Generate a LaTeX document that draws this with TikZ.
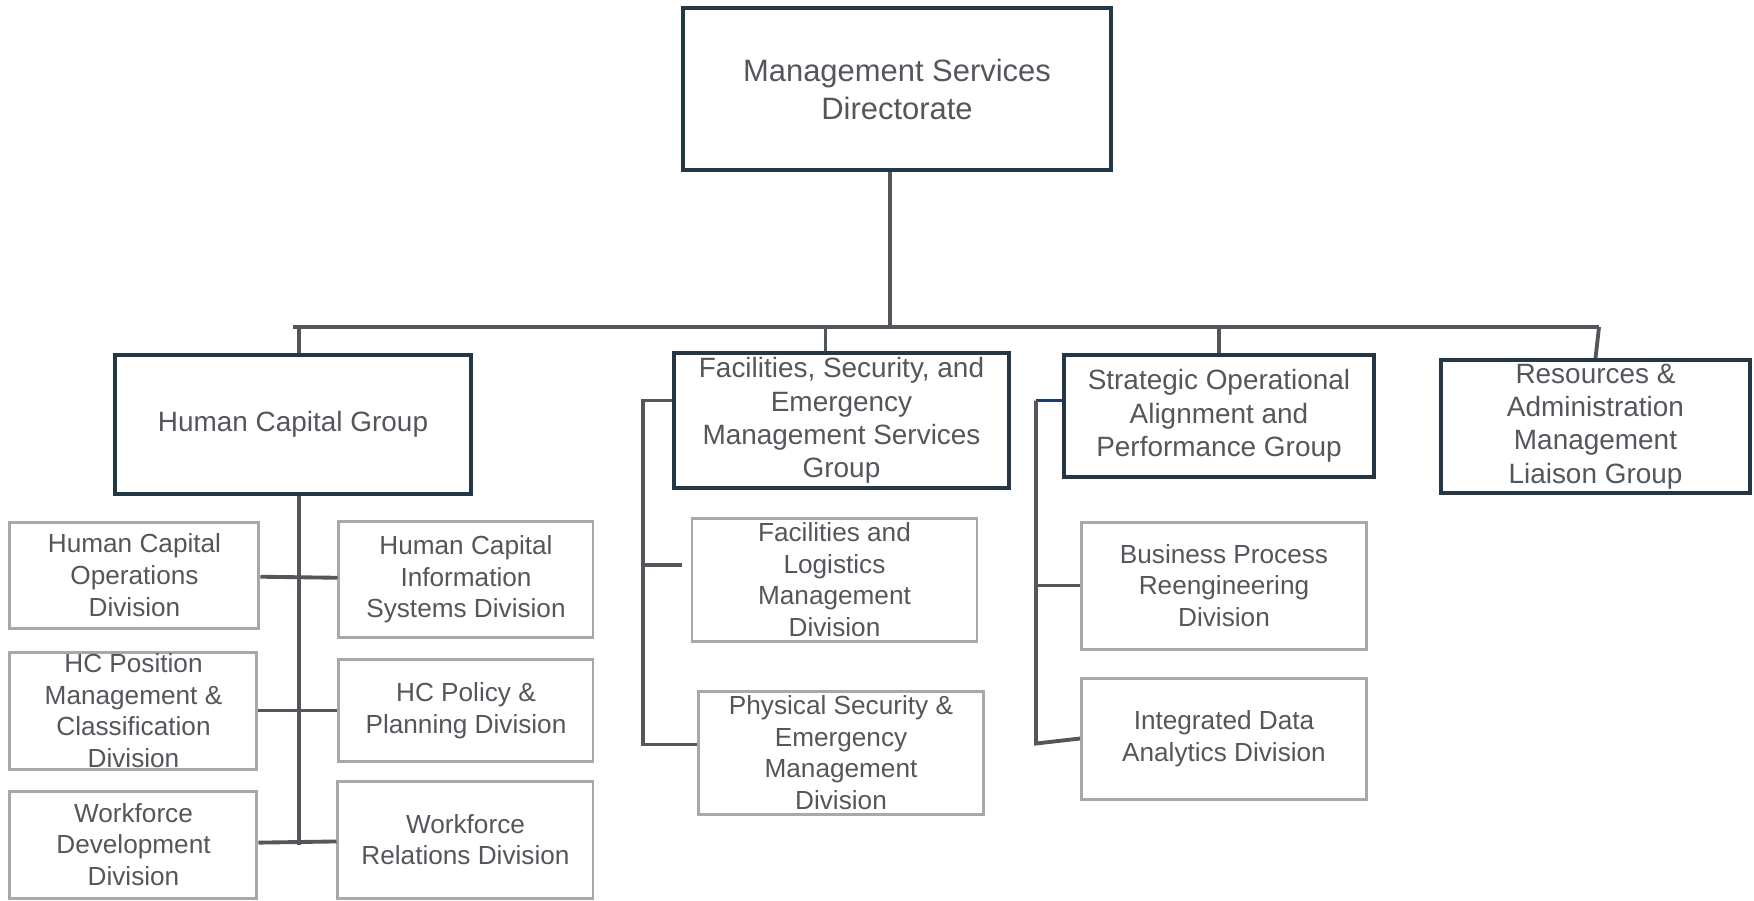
\documentclass[tikz,border=0pt]{standalone}
\usepackage{fontspec}
\setmainfont{Liberation Sans}
\definecolor{navy}{HTML}{243746}
\definecolor{framegray}{HTML}{A7A8AA}
\definecolor{linegray}{HTML}{53565A}
\definecolor{ink}{HTML}{53565A}
\definecolor{accent}{HTML}{1F3A6E}

\begin{document}
\begin{tikzpicture}[
    head/.style={draw=navy, line width=2pt, align=center, text=ink, inner sep=0pt, font=\fontsize{17.6}{21.6}\selectfont},
    grp/.style={draw=navy, line width=2pt, align=center, text=ink, inner sep=0pt, font=\fontsize{15.9}{19}\selectfont},
    div/.style={draw=framegray, line width=1.7pt, align=center, text=ink, inner sep=0pt, font=\fontsize{14.9}{18}\selectfont},
    wire/.style={draw=linegray, line width=2.2pt}
  ]
        \useasboundingbox (-17.94,1.78) rectangle (17.14,-16.22);

        \node [head, minimum width=8.56cm, minimum height=3.24cm] (1) {Management Services\\Directorate};

        % groups
        \node [grp, minimum width=7.12cm, minimum height=2.78cm, below of=1, xshift=-12.08cm, yshift=-5.71cm] (2) {Human Capital Group};
        \node [grp, minimum width=6.70cm, minimum height=2.70cm, right of=2, xshift=9.97cm, yshift=0.08cm] (3) {Facilities, Security, and\\Emergency\\Management Services\\Group};
        \node [grp, minimum width=6.20cm, minimum height=2.44cm, right of=3, xshift=6.55cm, yshift=0.09cm] (4) {Strategic Operational\\Alignment and\\Performance Group};
        \node [grp, minimum width=6.18cm, minimum height=2.66cm, right of=4, xshift=6.53cm, yshift=-0.21cm] (5) {Resources \&\\Administration\\Management\\Liaison Group};

        % human capital divisions
        \node [div, minimum width=4.98cm, minimum height=2.12cm, below of=2, xshift=-3.17cm, yshift=-2.01cm] (6) {Human Capital\\Operations\\Division};
        \node [div, minimum width=5.08cm, minimum height=2.32cm, right of=6, xshift=5.63cm, yshift=-0.09cm] (7) {Human Capital\\Information\\Systems Division};
        \node [div, minimum width=4.94cm, minimum height=2.34cm, below of=6, xshift=-0.02cm, yshift=-1.71cm] (8) {HC Position\\Management \&\\Classification\\Division};
        \node [div, minimum width=5.08cm, minimum height=2.04cm, right of=8, xshift=5.65cm] (9) {HC Policy \&\\Planning Division};
        \node [div, minimum width=4.94cm, minimum height=2.14cm, below of=8, yshift=-1.68cm] (10) {Workforce\\Development\\Division};
        \node [div, minimum width=5.10cm, minimum height=2.34cm, right of=10, xshift=5.64cm, yshift=0.10cm] (11) {Workforce\\Relations Division};

        % facilities divisions
        \node [div, minimum width=5.70cm, minimum height=2.46cm, below of=3, xshift=-0.14cm, yshift=-2.18cm] (12) {Facilities and\\Logistics\\Management\\Division};
        \node [div, minimum width=5.70cm, minimum height=2.46cm, below of=12, xshift=0.13cm, yshift=-2.46cm] (13) {Physical Security \&\\Emergency\\Management\\Division};

        % strategic divisions
        \node [div, minimum width=5.70cm, minimum height=2.54cm, below of=4, xshift=0.10cm, yshift=-2.39cm] (14) {Business Process\\Reengineering\\Division};
        \node [div, minimum width=5.70cm, minimum height=2.42cm, below of=14, yshift=-2.06cm] (15) {Integrated Data\\Analytics Division};

        \coordinate (b1) at (-12.08,-4.76);
        \coordinate (b2) at (14.04,-4.76);
        \coordinate (s1) at ([xshift=-0.14cm]1.south);
        \coordinate (s2) at ([xshift=0.12cm]2.north);
        \coordinate (s3) at ([xshift=-0.32cm]3.north);
        \coordinate (r1) at (-5.08,-6.23);
        \coordinate (r2) at (-5.08,-13.11);
        \coordinate (r3) at (2.78,-6.23);
        \coordinate (r4) at (2.78,-13.09);
        \coordinate (f1) at (-4.30,-9.52);

        \draw[wire] (b1) -- (b2);
        \draw[wire] (s1) -- (s1 |- b1);
        \draw[wire] (s2 |- b1) -- (s2);
        \draw[wire] (s3 |- b1) -- (s3);
        \draw[wire] (4.north |- b1) -- (4.north);
        \draw[wire] (b2) -- (5.north);

        \draw[wire] (s2 |- 2.south) -- (s2 |- 10.east);
        \draw[wire] (6) -- (7);
        \draw[wire] (8) -- (9);
        \draw[wire] (10) -- (11);

        \draw[wire] (3.west |- r1) -- (r1) -- (r2) -- (r2 -| 13.west);
        \draw[wire] (r1 |- f1) -- (f1);

        \draw[wire, draw=accent] (4.west |- r3) -- (r3);
        \draw[wire] (r3) -- (r4) -- (15.west);
        \draw[wire] (r3 |- 14.west) -- (14.west);
      \end{tikzpicture}
\end{document}
